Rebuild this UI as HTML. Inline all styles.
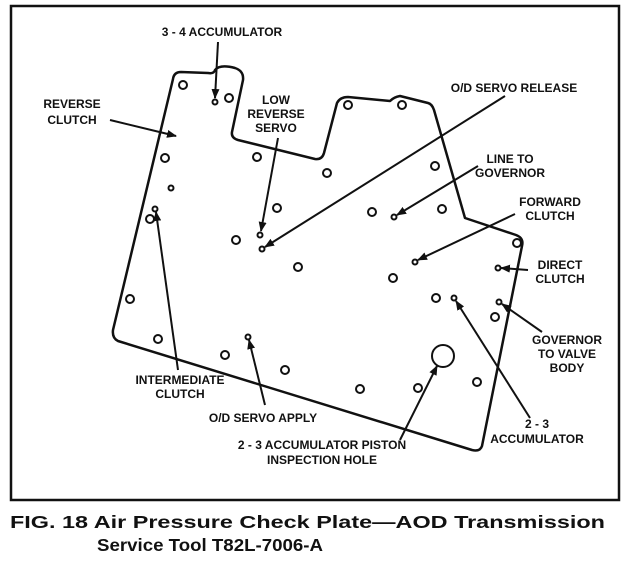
<!DOCTYPE html>
<html><head><style>
body{margin:0;background:#fff;width:628px;height:568px;overflow:hidden}
svg text{font-family:"Liberation Sans",sans-serif;font-weight:bold;fill:#111}
</style></head><body>
<svg width="628" height="568" viewBox="0 0 628 568" xmlns="http://www.w3.org/2000/svg">
<defs><marker id="a" markerWidth="10" markerHeight="8" refX="9" refY="4" orient="auto" markerUnits="userSpaceOnUse"><path d="M0,0 L10,4 L0,8 Z" fill="#111"/></marker></defs>
<rect x="11" y="6" width="608" height="494" fill="none" stroke="#111" stroke-width="2.5"/>
<path d="M173,79 Q174,72 181,72 L208,73 Q214,74 215,70 Q220,64 235,68 Q244,71 243,80 L232,132 Q231,138 238,140 L315,159 Q322,160 324,153 L337,103 Q340,97 348,97 L390,101 Q394,97 400,96 L428,103 Q432,104 434,110 L465,218 L516,235 Q524,238 522,246 L482,446 Q480,452 472,450 L118,341 Q112,338 113,330 Z" fill="none" stroke="#111" stroke-width="2.5" stroke-linejoin="round"/>
<g fill="none" stroke="#111" stroke-width="2">
<circle cx="183" cy="85" r="4"/><circle cx="229" cy="98" r="4"/><circle cx="348" cy="105" r="4"/><circle cx="402" cy="105" r="4"/>
<circle cx="165" cy="158" r="4"/><circle cx="257" cy="157" r="4"/><circle cx="327" cy="173" r="4"/><circle cx="435" cy="166" r="4"/>
<circle cx="150" cy="219" r="4"/><circle cx="277" cy="208" r="4"/><circle cx="372" cy="212" r="4"/><circle cx="442" cy="209" r="4"/>
<circle cx="236" cy="240" r="4"/><circle cx="298" cy="267" r="4"/><circle cx="393" cy="278" r="4"/><circle cx="517" cy="243" r="4"/>
<circle cx="436" cy="298" r="4"/><circle cx="495" cy="317" r="4"/><circle cx="130" cy="299" r="4"/><circle cx="158" cy="339" r="4"/>
<circle cx="225" cy="355" r="4"/><circle cx="285" cy="370" r="4"/><circle cx="360" cy="389" r="4"/><circle cx="418" cy="388" r="4"/><circle cx="477" cy="382" r="4"/>
<circle cx="443" cy="356" r="11"/>
<circle cx="215" cy="102" r="2.5"/><circle cx="171" cy="188" r="2.5"/><circle cx="155" cy="209" r="2.5"/><circle cx="394" cy="217" r="2.5"/>
<circle cx="260" cy="235" r="2.5"/><circle cx="262" cy="249" r="2.5"/><circle cx="415" cy="262" r="2.5"/><circle cx="498" cy="268" r="2.5"/>
<circle cx="454" cy="298" r="2.5"/><circle cx="499" cy="302" r="2.5"/><circle cx="248" cy="337" r="2.5"/>
</g>
<g stroke="#111" stroke-width="2" marker-end="url(#a)">
<line x1="218" y1="42" x2="215" y2="98"/>
<line x1="110" y1="120" x2="176" y2="136"/>
<line x1="278" y1="138" x2="261" y2="231"/>
<line x1="505" y1="96" x2="265" y2="247"/>
<line x1="478" y1="166" x2="397" y2="215"/>
<line x1="515" y1="214" x2="418" y2="260"/>
<line x1="528" y1="270" x2="501" y2="268"/>
<line x1="542" y1="332" x2="502" y2="304"/>
<line x1="530" y1="418" x2="456" y2="301"/>
<line x1="178" y1="370" x2="156" y2="212"/>
<line x1="265" y1="405" x2="249" y2="340"/>
<line x1="400" y1="440" x2="437" y2="366"/>
</g>
<g font-size="12" text-anchor="middle">
<text x="222" y="36">3 - 4 ACCUMULATOR</text>
<text x="72" y="108">REVERSE</text><text x="72" y="124">CLUTCH</text>
<text x="276" y="104">LOW</text><text x="276" y="118">REVERSE</text><text x="276" y="132">SERVO</text>
<text x="514" y="92">O/D SERVO RELEASE</text>
<text x="510" y="163">LINE TO</text><text x="510" y="177">GOVERNOR</text>
<text x="550" y="206">FORWARD</text><text x="550" y="220">CLUTCH</text>
<text x="560" y="269">DIRECT</text><text x="560" y="283">CLUTCH</text>
<text x="567" y="344">GOVERNOR</text><text x="567" y="358">TO VALVE</text><text x="567" y="372">BODY</text>
<text x="537" y="428">2 - 3</text><text x="537" y="443">ACCUMULATOR</text>
<text x="180" y="384">INTERMEDIATE</text><text x="180" y="398">CLUTCH</text>
<text x="263" y="422">O/D SERVO APPLY</text>
<text x="322" y="449">2 - 3 ACCUMULATOR PISTON</text><text x="322" y="464">INSPECTION HOLE</text>
</g>
<text x="10" y="528" font-size="17.5" textLength="595" lengthAdjust="spacingAndGlyphs">FIG. 18  Air Pressure Check Plate—AOD Transmission</text>
<text x="97" y="551" font-size="17.5" textLength="226" lengthAdjust="spacingAndGlyphs">Service Tool T82L-7006-A</text>
</svg>
</body></html>
